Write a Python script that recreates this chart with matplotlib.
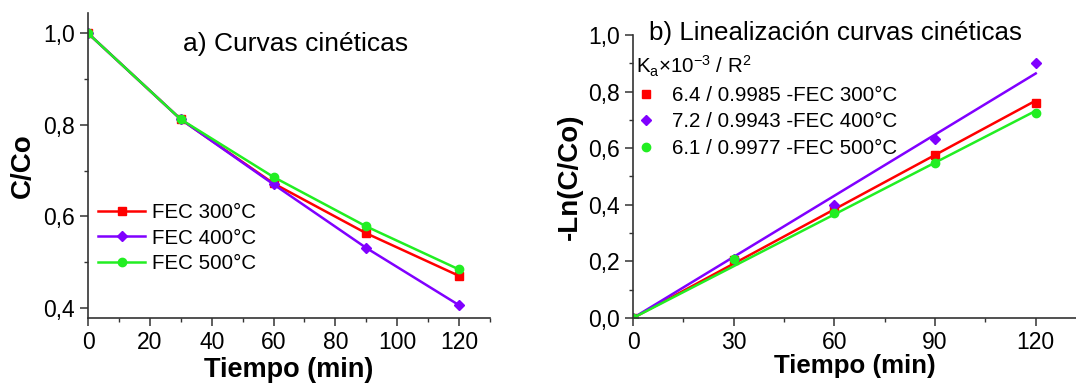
import matplotlib.pyplot as plt
import numpy as np
from matplotlib.ticker import MultipleLocator, FuncFormatter

plt.rcParams['font.family'] = ['Liberation Sans', 'DejaVu Sans']
plt.rcParams['mathtext.default'] = 'regular'

# kinetic data
tiempo = [0, 30, 60, 90, 120]
c_300 = [1.0, 0.812, 0.672, 0.563, 0.470]
c_400 = [1.0, 0.812, 0.670, 0.531, 0.406]
c_500 = [1.0, 0.812, 0.686, 0.578, 0.484]

# linearization: -ln(C/Co)
ln_300 = [0.0, 0.205, 0.385, 0.575, 0.758]
ln_400 = [0.0, 0.208, 0.398, 0.633, 0.901]
ln_500 = [0.0, 0.208, 0.372, 0.548, 0.726]

# fitted rate constants (x10^-3) and R^2
ka = [6.4, 7.2, 6.1]
r2 = [0.9985, 0.9943, 0.9977]
etiquetas = ['FEC 300°C', 'FEC 400°C', 'FEC 500°C']

colores = ['#ff0000', '#8000ff', '#22ee22']
marcadores = ['s', 'D', 'o']

coma = FuncFormatter(lambda v, p: f"{v:.1f}".replace('.', ','))

fig = plt.figure(figsize=(10.76, 3.83), dpi=100)
ax1 = fig.add_axes([0.0818, 0.1697, 0.3736, 0.796])
ax2 = fig.add_axes([0.5883, 0.1697, 0.4117, 0.739])

# a) kinetic curves
for y, c, m, lab in zip([c_300, c_400, c_500], colores, marcadores, etiquetas):
    ax1.plot(tiempo, y, color=c, marker=m, ms=6 if m != 'D' else 5, lw=1.8, label=lab)

ax1.set_xlim(0, 130)
ax1.set_ylim(0.378, 1.044)
ax1.xaxis.set_major_locator(MultipleLocator(20))
ax1.xaxis.set_minor_locator(MultipleLocator(10))
ax1.yaxis.set_major_locator(MultipleLocator(0.2))
ax1.yaxis.set_minor_locator(MultipleLocator(0.1))
ax1.yaxis.set_major_formatter(coma)
ax1.set_xlabel('Tiempo (min)', fontsize=19.5, fontweight='bold', labelpad=2)
ax1.set_ylabel('C/Co', fontsize=20, fontweight='bold', labelpad=5)
ax1.text(0.236, 0.90, 'a) Curvas cinéticas', transform=ax1.transAxes,
         fontsize=19, va='center', ha='left')
ax1.legend(loc='center left', bbox_to_anchor=(0.025, 0.262), frameon=False,
           fontsize=14.8, handlelength=2.3, handletextpad=0.3, labelspacing=0.3,
           borderaxespad=0, borderpad=0)

# b) linearized curves
t_fit = np.array([0, 120])
for y, k, r, c, m, lab in zip([ln_300, ln_400, ln_500], ka, r2, colores, marcadores, etiquetas):
    ax2.plot(tiempo, y, ls='none', color=c, marker=m, ms=6 if m != 'D' else 5,
             label=f'{k} / {r} -{lab}')
    ax2.plot(t_fit, k * 1e-3 * t_fit, color=c, lw=1.8)

ax2.set_xlim(0, 132)
ax2.set_ylim(0, 1.0)
ax2.xaxis.set_major_locator(MultipleLocator(30))
ax2.xaxis.set_minor_locator(MultipleLocator(15))
ax2.yaxis.set_major_locator(MultipleLocator(0.2))
ax2.yaxis.set_minor_locator(MultipleLocator(0.1))
ax2.yaxis.set_major_formatter(coma)
ax2.set_xlabel('Tiempo (min)', fontsize=18.6, fontweight='bold', labelpad=0)
ax2.set_ylabel('-Ln(C/Co)', fontsize=20, fontweight='bold', labelpad=4)
ax2.text(0.036, 1.007, 'b) Linealización curvas cinéticas', transform=ax2.transAxes,
         fontsize=18.7, va='center', ha='left')
ax2.legend(loc='upper left', bbox_to_anchor=(0.007, 0.935), frameon=False,
           fontsize=14.8, title=r'K$_a$×10$^{-3}$ / R$^2$', title_fontsize=14.8,
           alignment='left', handlelength=1.0, handletextpad=0.75, labelspacing=0.36,
           borderaxespad=0, borderpad=0)

for ax in (ax1, ax2):
    ax.spines['top'].set_visible(False)
    ax.spines['right'].set_visible(False)
    for s in ('left', 'bottom'):
        ax.spines[s].set_linewidth(1.2)
        ax.spines[s].set_color('#333333')
    ax.tick_params(which='major', direction='out', length=6, width=1.1, labelsize=16.5,
                   color='#333333')
    ax.tick_params(which='minor', direction='out', length=3, width=1.0, color='#333333')

fig.savefig('out.png', dpi=100)
